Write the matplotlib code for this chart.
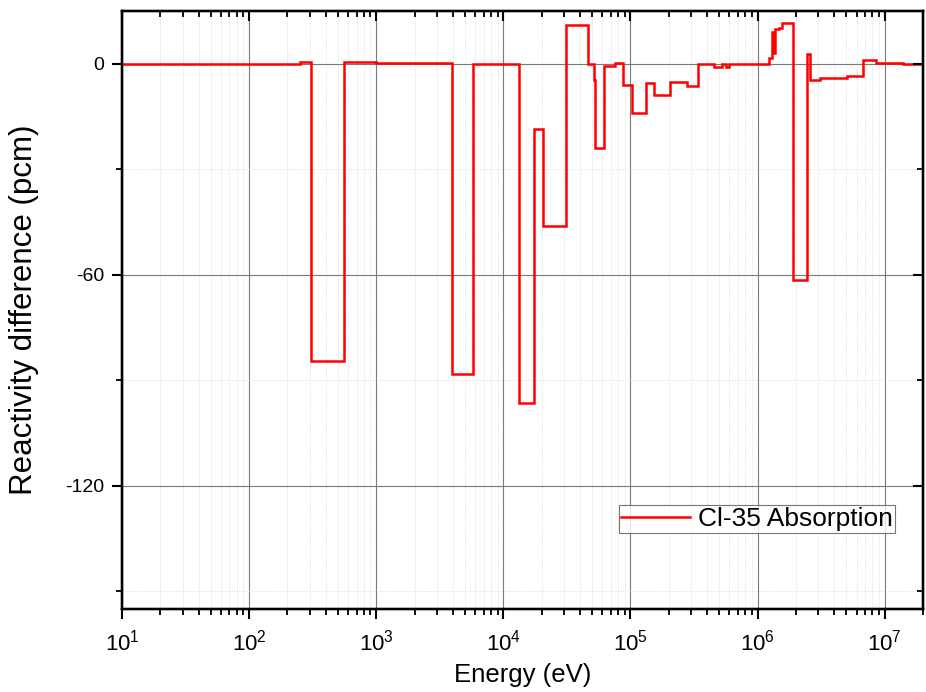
import numpy as np
import matplotlib
matplotlib.use("Agg")
import matplotlib.pyplot as plt
from matplotlib.ticker import LogLocator, FixedLocator, FuncFormatter, NullFormatter

plt.rcParams['font.family'] = ['Liberation Sans', 'DejaVu Sans']
plt.rcParams['mathtext.fontset'] = 'custom'
plt.rcParams['mathtext.rm'] = 'Liberation Sans'
plt.rcParams['mathtext.it'] = 'Liberation Sans:italic'
plt.rcParams['mathtext.bf'] = 'Liberation Sans:bold'
plt.rcParams['axes.unicode_minus'] = False

# Energy group boundaries (eV) and reactivity difference per group (pcm)
energy_edges = [10, 250, 308, 560, 1000, 2000, 3960, 5770, 13300, 17300, 20600,
                31000, 46100, 51400, 53000, 62400, 75000, 87400, 103000, 133000,
                152000, 206000, 279000, 339000, 450000, 520000, 560000, 600000,
                1.23e6, 1.29e6, 1.32e6, 1.36e6, 1.47e6, 1.56e6, 1.91e6, 2.46e6,
                2.56e6, 3.09e6, 5.02e6, 6.8e6, 8.5e6, 1.4e7, 2e7]
reactivity = [0.0, 0.4, -84.5, 0.5, 0.3, 0.1, -88.2, 0.0, -96.3, -18.5,
              -46.0, 11.0, -0.1, -4.5, -23.9, -0.6, 0.1, -6.0, -14.1, -5.5,
              -8.8, -5.1, -6.2, -0.2, -1.0, -0.2, -0.9, -0.1,
              1.6, 8.9, 3.2, 9.8, 10.3, 11.5, -61.6, 2.7,
              -4.5, -4.1, -3.4, 1.1, 0.2, -0.1]

series_label = "Cl-35 Absorption"
x_label = "Energy (eV)"
y_label = "Reactivity difference (pcm)"
x_decades = [1, 2, 3, 4, 5, 6, 7]
y_ticks = [0, -60, -120]
y_minor = [-30, -90, -150]

x_major = [10.0 ** d for d in x_decades]
x_minor = [m * 10.0 ** d for d in x_decades for m in range(2, 10) if m * 10.0 ** d <= 2e7]

fig = plt.figure(figsize=(9.26, 6.92), dpi=100)
ax = fig.add_axes([122/926, 1 - 609/692, (923 - 122)/926, (609 - 11)/692])

ax.stairs(reactivity, energy_edges, color='#ff0000', linewidth=1.8,
          baseline=None, label=series_label, zorder=3)

ax.set_xscale('log')
ax.set_xlim(10, 2e7)
ax.set_ylim(-155, 15)

ax.xaxis.set_major_locator(FixedLocator(x_major))
ax.xaxis.set_minor_locator(FixedLocator(x_minor))
ax.xaxis.set_major_formatter(FuncFormatter(lambda v, p: r'$\mathregular{10^{%d}}$' % round(np.log10(v))))
ax.xaxis.set_minor_formatter(NullFormatter())
ax.yaxis.set_major_locator(FixedLocator(y_ticks))
ax.yaxis.set_minor_locator(FixedLocator(y_minor))
ax.yaxis.set_major_formatter(FuncFormatter(lambda v, p: '%d' % v))

ax.grid(which='major', color='#7a7a7a', linewidth=0.8, zorder=1)
ax.grid(which='minor', color='#dcdcdc', linewidth=0.7, linestyle=(0, (1, 1.5)), zorder=1)
ax.set_axisbelow(True)

ax.tick_params(which='major', direction='out', length=7, width=1.5,
               right=False, top=False)
ax.tick_params(which='minor', direction='out', length=4, width=1.3,
               right=False, top=False)
ax.tick_params(axis='y', which='major', labelsize=14, pad=6)
ax.tick_params(axis='x', which='major', labelsize=16, pad=8)

for s in ax.spines.values():
    s.set_linewidth(1.6)

# Inward ticks along the top and right edges
axt = ax.twiny()
axt.set_xscale('log')
axt.set_xlim(ax.get_xlim())
axt.xaxis.set_major_locator(FixedLocator(x_major))
axt.xaxis.set_minor_locator(FixedLocator(x_minor))
axt.tick_params(which='major', direction='in', length=7, width=1.5, labeltop=False)
axt.tick_params(which='minor', direction='in', length=4, width=1.3)
axt.xaxis.set_major_formatter(NullFormatter())
axt.xaxis.set_minor_formatter(NullFormatter())

axr = ax.twinx()
axr.set_ylim(ax.get_ylim())
axr.yaxis.set_major_locator(FixedLocator(y_ticks))
axr.yaxis.set_minor_locator(FixedLocator(y_minor))
axr.tick_params(which='major', direction='in', length=7, width=1.5, labelright=False)
axr.tick_params(which='minor', direction='in', length=4, width=1.3)
for a in (axt, axr):
    for s in a.spines.values():
        s.set_linewidth(1.6)

ax.set_xlabel(x_label, fontsize=18.5)
ax.set_ylabel(y_label, fontsize=22.5)
ax.xaxis.set_label_coords(0.5, -0.09)
ax.yaxis.set_label_coords(-0.104, 0.5)

leg = ax.legend(loc='lower right', bbox_to_anchor=(0.965, 0.127), fontsize=19,
                frameon=True, fancybox=False, handlelength=2.6, handletextpad=0.3,
                borderpad=0.08, borderaxespad=0)
leg.get_frame().set_edgecolor('#555555')
leg.get_frame().set_linewidth(0.8)
leg.set_zorder(5)

fig.savefig('out.png', dpi=100)
